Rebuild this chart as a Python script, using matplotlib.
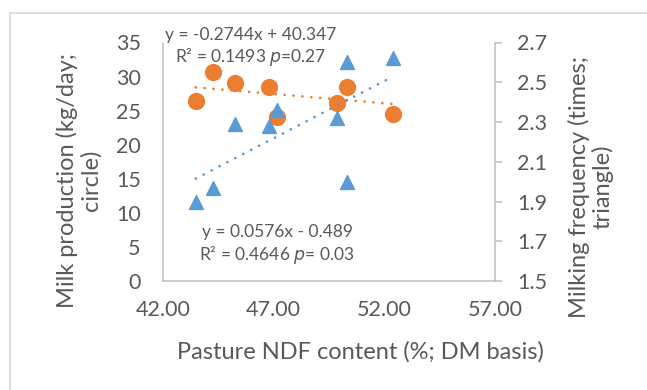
import matplotlib.pyplot as plt
import numpy as np
from matplotlib.patches import Rectangle

# Pasture NDF content (%; DM basis) per farm
ndf_milk = [43.48, 44.26, 45.27, 46.79, 47.16, 49.84, 50.31, 52.38]
milk_yield = [26.4, 30.6, 29.0, 28.4, 24.0, 26.1, 28.4, 24.5]

ndf_freq = [43.48, 44.26, 45.27, 46.79, 47.16, 49.84, 50.31, 50.31, 52.38]
milking_freq = [1.90, 1.97, 2.29, 2.28, 2.36, 2.32, 2.60, 2.00, 2.62]

# trendline coefficients (slope, intercept)
milk_fit = (-0.2744, 40.347)
freq_fit = (0.0576, -0.489)

x_ticks = [42, 47, 52, 57]
milk_ticks = [0, 5, 10, 15, 20, 25, 30, 35]
freq_ticks = [1.5, 1.7, 1.9, 2.1, 2.3, 2.5, 2.7]

orange = '#ED7D31'
blue = '#5B9BD5'
txt = '#595959'
spine = '#BFBFBF'

plt.rcParams['font.family'] = ['Lato', 'DejaVu Sans']

fig = plt.figure(figsize=(6.47, 3.9), dpi=100)
ax = fig.add_axes([163 / 647, 1 - 281 / 390, (495 - 163) / 647, (281 - 42.5) / 390])
ax2 = ax.twinx()

# outer chart border
fig.patches.append(Rectangle((10 / 647, -0.1), 1.2, 1 - 13 / 390 + 0.1,
                             transform=fig.transFigure, fill=False,
                             edgecolor='#D9D9D9', lw=1.2))

dots = (0, (0.01, 3.2))

# milk production (left axis)
ax.scatter(ndf_milk, milk_yield, s=130, color=orange, zorder=3)
xs = np.array([min(ndf_milk), max(ndf_milk)])
ax.plot(xs, milk_fit[0] * xs + milk_fit[1], color=orange, lw=2.0,
        linestyle=dots, dash_capstyle='round', zorder=2)

# milking frequency (right axis)
ax2.scatter(ndf_freq, milking_freq, s=100, marker='^', color=blue, zorder=3)
xs2 = np.array([min(ndf_freq), max(ndf_freq)])
ax2.plot(xs2, freq_fit[0] * xs2 + freq_fit[1], color=blue, lw=2.0,
         linestyle=dots, dash_capstyle='round', zorder=2)

ax.set_xlim(42, 57)
ax.set_ylim(0, 35)
ax2.set_ylim(1.5, 2.7)
ax.set_xticks(x_ticks)
ax.set_xticklabels([f'{v:.2f}' for v in x_ticks])
ax.set_yticks(milk_ticks)
ax2.set_yticks(freq_ticks)
ax2.set_yticklabels([f'{v:.1f}' for v in freq_ticks])

for a in (ax, ax2):
    a.spines['top'].set_visible(False)
    for s in ('left', 'bottom', 'right'):
        a.spines[s].set_color(spine)
        a.spines[s].set_linewidth(1.1)
    a.tick_params(labelsize=15.5, labelcolor=txt, color=spine)
ax.spines['right'].set_visible(False)
ax2.spines['left'].set_visible(False)
ax2.spines['bottom'].set_visible(False)
ax.tick_params(axis='both', length=0)
ax.tick_params(axis='y', pad=16)
ax.tick_params(axis='x', pad=14)
ax2.tick_params(axis='y', length=5, width=1.1, pad=11)

fig.text(360 / 647, 1 - 352 / 390, 'Pasture NDF content (%; DM basis)',
         ha='center', va='center', fontsize=17, color=txt)
fig.text(78.5 / 647, 1 - 180 / 390, 'Milk production (kg/day;\ncircle)', rotation=90,
         ha='center', va='center', fontsize=17, color=txt, linespacing=1.1)
fig.text(590.5 / 647, 1 - 187 / 390, 'Milking frequency (times;\ntriangle)', rotation=90,
         ha='center', va='center', fontsize=17, color=txt, linespacing=1.1)

# trendline equations
fig.text(165 / 647, 1 - 35 / 390, 'y = -0.2744x + 40.347', fontsize=12.5, color=txt,
         ha='left', va='center')
fig.text(175 / 647, 1 - 57 / 390, 'R² = 0.1493 $\\it{p}$=0.27', fontsize=12.5, color=txt,
         ha='left', va='center')
fig.text(202 / 647, 1 - 232 / 390, 'y = 0.0576x - 0.489', fontsize=12.5, color=txt,
         ha='left', va='center')
fig.text(199 / 647, 1 - 255 / 390, 'R² = 0.4646 $\\it{p}$= 0.03', fontsize=12.5, color=txt,
         ha='left', va='center')

fig.savefig('out.png', dpi=100)
